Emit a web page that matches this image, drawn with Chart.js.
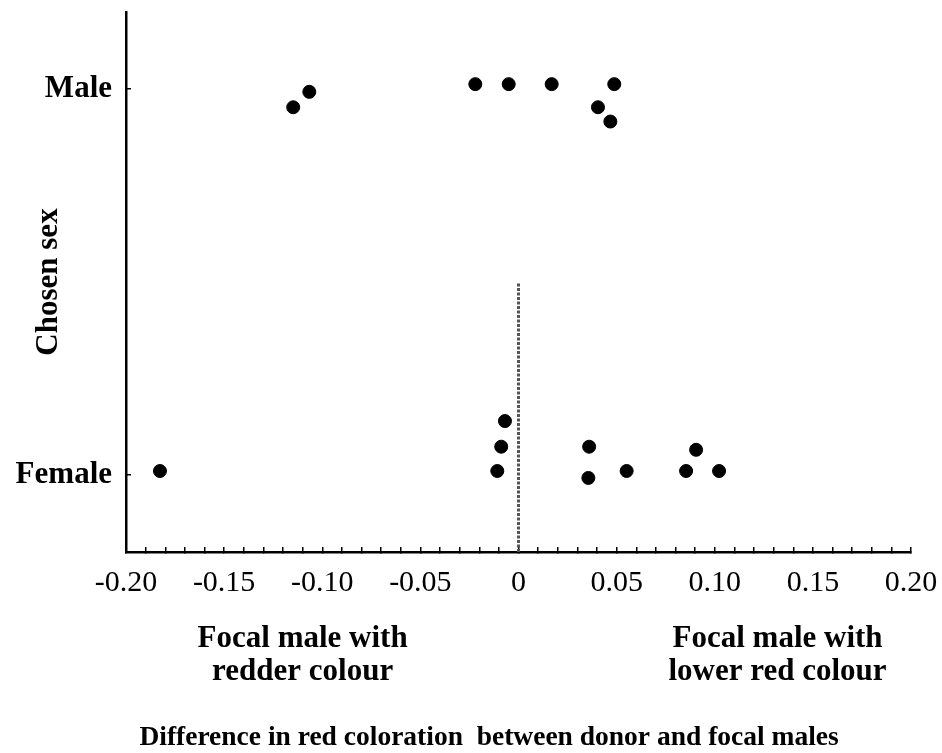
<!DOCTYPE html>
<html>
<head>
<meta charset="utf-8">
<script src="https://cdn.jsdelivr.net/npm/chart.js@4.4.1/dist/chart.umd.min.js"></script>
<style>
  body { margin: 0; background: #fff; }
  #chartcanvas { display: block; }
</style>
</head>
<body>
<canvas id="chartcanvas" width="942" height="753"></canvas>
<script>
// x = difference in red coloration, y = chosen sex (0 = Female, 1 = Male, plus jitter)
var maleX = [-0.1148, -0.1066, -0.0220, -0.0050, 0.0169, 0.0488, 0.0405, 0.0468];
var maleY = [0.953, 0.993, 1.013, 1.013, 1.013, 1.013, 0.953, 0.916];
var femaleX = [-0.1827, -0.0069, -0.0088, -0.0108, 0.0360, 0.0356, 0.0551, 0.0905, 0.0854, 0.1022];
var femaleY = [0.010, 0.1395, 0.073, 0.010, 0.073, -0.008, 0.010, 0.065, 0.010, 0.010];

// reference line at zero
var zeroLineX = [0, 0];
var zeroLineY = [-0.2, 0.5];

var categories = ["Female", "Male"];
var xTickValues = [-0.2, -0.15, -0.1, -0.05, 0, 0.05, 0.1, 0.15, 0.2];
var xTickLabels = ["-0.20", "-0.15", "-0.10", "-0.05", "0", "0.05", "0.10", "0.15", "0.20"];
var leftNote = ["Focal male with", "redder colour"];
var rightNote = ["Focal male with", "lower red colour"];
var xTitle = "Difference in red coloration  between donor and focal males";

var serif = '"Liberation Serif", "Times New Roman", serif';

//turn two arrays into point objects
function toPoints(xs, ys) {
	var pts = [];
	for (var i = 0; i < xs.length; i++) {
		pts.push({ x: xs[i], y: ys[i] });
	}
	return pts;
}

// draws the two notes and the axis title under the x axis
var notesPlugin = {
	id: "notes",
	afterDraw: function(chart) {
		var ctx = chart.ctx;
		var xs = chart.scales.x;
		var bottom = chart.chartArea.bottom;
		ctx.save();
		ctx.fillStyle = "#000";
		ctx.textAlign = "center";
		ctx.textBaseline = "middle";
		ctx.font = "bold 31px " + serif;
		var lx = xs.getPixelForValue(-0.11);
		var rx = xs.getPixelForValue(0.132);
		for (var i = 0; i < 2; i++) {
			ctx.fillText(leftNote[i], lx, bottom + 87 + i * 33);
			ctx.fillText(rightNote[i], rx, bottom + 87 + i * 33);
		}
		ctx.font = "bold 27.5px " + serif;
		ctx.fillText(xTitle, xs.getPixelForValue(-0.015), bottom + 186);
		ctx.restore();
	}
};

var ctx = document.getElementById("chartcanvas");
var chart = new Chart(ctx, {
	type: "scatter",
	data: {
		datasets: [
			{
				label: "Male",
				data: toPoints(maleX, maleY),
				backgroundColor: "#000",
				borderColor: "#000",
				pointRadius: 6.5,
				pointHoverRadius: 6.5
			},
			{
				label: "Female",
				data: toPoints(femaleX, femaleY),
				backgroundColor: "#000",
				borderColor: "#000",
				pointRadius: 6.5,
				pointHoverRadius: 6.5
			},
			{
				label: "zero",
				type: "line",
				data: toPoints(zeroLineX, zeroLineY),
				borderColor: "#555",
				borderWidth: 3,
				borderDash: [3, 1.5],
				pointRadius: 0,
				fill: false
			}
		]
	},
	options: {
		responsive: false,
		animation: false,
		layout: { padding: { left: 0, right: 31, top: 12, bottom: 0 } },
		plugins: {
			legend: { display: false },
			tooltip: { enabled: false }
		},
		scales: {
			x: {
				type: "linear",
				min: -0.2,
				max: 0.2,
				afterFit: function(s) {
					s.height = 201;
					s.paddingLeft = 0;
					s.paddingRight = 0;
				},
				border: { display: true, color: "#000", width: 2.5 },
				grid: { drawOnChartArea: false, color: "#000", tickLength: -5, lineWidth: 1.5 },
				ticks: {
					stepSize: 0.01,
					autoSkip: false,
					maxRotation: 0,
					padding: 18,
					color: "#000",
					font: { family: serif, size: 30 },
					callback: function(v) {
						for (var i = 0; i < xTickValues.length; i++) {
							if (Math.abs(v - xTickValues[i]) < 1e-6) return xTickLabels[i];
						}
						return "";
					}
				}
			},
			y: {
				type: "linear",
				min: -0.2,
				max: 1.2,
				afterFit: function(s) {
					s.width = 126;
					s.paddingTop = 0;
					s.paddingBottom = 0;
				},
				afterBuildTicks: function(s) {
					s.ticks = [{ value: 0 }, { value: 1 }];
				},
				border: { display: true, color: "#000", width: 2.5 },
				grid: { drawOnChartArea: false, color: "#000", tickLength: -5, lineWidth: 1.5 },
				ticks: {
					padding: 19,
					color: "#000",
					font: { family: serif, size: 31, weight: "bold" },
					callback: function(v) { return categories[v]; }
				},
				title: {
					display: true,
					text: "Chosen sex",
					color: "#000",
					font: { family: serif, size: 31, weight: "bold" },
					padding: { top: 30, bottom: 0 }
				}
			}
		}
	},
	plugins: [notesPlugin]
});
</script>
</body>
</html>
